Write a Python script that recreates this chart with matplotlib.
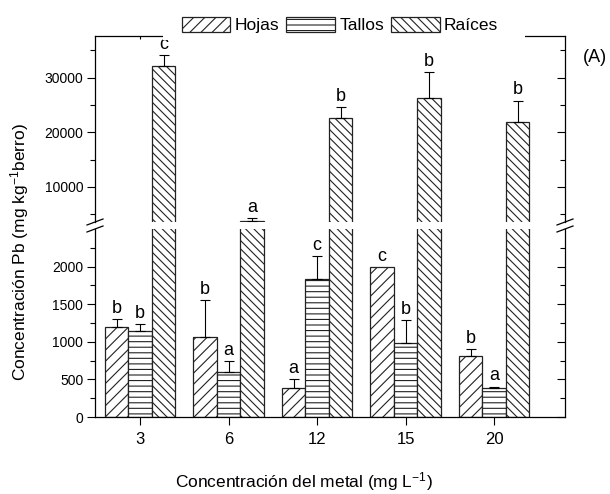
import numpy as np
import matplotlib
matplotlib.use('Agg')
import matplotlib.pyplot as plt
from matplotlib.lines import Line2D
from matplotlib.patches import Rectangle

plt.rcParams['font.family'] = ['Liberation Sans', 'DejaVu Sans']
plt.rcParams['mathtext.default'] = 'regular'
plt.rcParams['hatch.linewidth'] = 0.8

# datos
concentraciones = ['3', '6', '12', '15', '20']
hojas = [1200, 1070, 380, 2000, 815]
hojas_err = [100, 480, 120, 0, 85]
tallos = [1140, 595, 1835, 980, 390]
tallos_err = [100, 155, 300, 305, 15]
raices = [32100, 3850, 22600, 26300, 21850]
raices_err = [2000, 400, 2000, 4700, 3950]

letras_hojas = ['b', 'b', 'a', 'c', 'b']
letras_tallos = ['b', 'a', 'c', 'b', 'a']
letras_raices = ['c', 'a', 'b', 'b', 'b']

W, H = 610, 494
fig = plt.figure(figsize=(W / 100, H / 100), dpi=100)

def fx(px):
    return px / W

def fy(py):
    return 1 - py / H

left, right = 95, 565
ax_top = fig.add_axes([fx(left), fy(222), fx(right) - fx(left), fy(36) - fy(222)])
ax_bot = fig.add_axes([fx(left), fy(417), fx(right) - fx(left), fy(229) - fy(417)])

x = np.arange(1, len(concentraciones) + 1)
w = 0.265
series = [
    (hojas, hojas_err, letras_hojas, '///', -w),
    (tallos, tallos_err, letras_tallos, '---', 0),
    (raices, raices_err, letras_raices, '\\\\\\\\', w),
]
labels = ['Hojas', 'Tallos', 'Raíces']

lim_bot = (0, 2500)
lim_top = (3600, 37600)

handles = []
for (vals, errs, letras, hatch, off), lab in zip(series, labels):
    vals = np.array(vals, dtype=float)
    errs = np.array(errs, dtype=float)
    for ax in (ax_top, ax_bot):
        b = ax.bar(x + off, vals, w, color='white', edgecolor='#222222',
                   linewidth=0.9, hatch=hatch, label=lab)
        m = errs > 0
        ax.errorbar(x[m] + off, vals[m], yerr=[np.zeros(m.sum()), errs[m]],
                    fmt='none', ecolor='black', elinewidth=0.8, capsize=3.5,
                    capthick=0.8)
    handles.append(b)
    for xi, v, e, l in zip(x + off, vals, errs, letras):
        ax = ax_top if v + e > lim_bot[1] else ax_bot
        ax.annotate(l, (xi, v + e), xytext=(0, 1.5), textcoords='offset points',
                    ha='center', va='bottom', fontsize=13)

for ax in (ax_top, ax_bot):
    ax.set_xlim(0.49, 5.8)
    ax.tick_params(axis='y', which='major', direction='out', length=5.5,
                   width=0.8, labelsize=10, pad=3)
    ax.tick_params(axis='y', which='minor', direction='out', length=3.5, width=0.8)
    ax.tick_params(axis='y', which='both', right=True)
    for s in ax.spines.values():
        s.set_linewidth(0.9)

ax_top.set_ylim(*lim_top)
ax_top.set_yticks([10000, 20000, 30000])
ax_top.set_yticks([5000, 15000, 25000, 35000], minor=True)
ax_top.spines['bottom'].set_visible(False)
ax_top.set_xticks(x)
ax_top.tick_params(axis='x', bottom=False, labelbottom=False, top=True,
                   direction='in', length=2.5, width=0.8)

ax_bot.set_ylim(*lim_bot)
ax_bot.set_yticks([0, 500, 1000, 1500, 2000])
ax_bot.set_yticks(np.arange(250, 2500, 500), minor=True)
ax_bot.spines['top'].set_visible(False)
ax_bot.set_xticks(x)
ax_bot.set_xticklabels(concentraciones)
ax_bot.tick_params(axis='x', direction='out', length=6, width=0.8,
                   labelsize=12, pad=5)

# ticks derechos hacia adentro
for ax in (ax_top, ax_bot):
    for t in ax.yaxis.get_major_ticks() + ax.yaxis.get_minor_ticks():
        t.tick2line.set_marker(matplotlib.lines.TICKLEFT)

# marcas de corte
for xb in (left, right):
    for yb in (222, 229):
        fig.add_artist(Line2D([fx(xb - 8), fx(xb + 8)], [fy(yb + 3), fy(yb - 3)],
                              transform=fig.transFigure, color='black', lw=0.9))

# tapa del eje superior detras de la leyenda
fig.add_artist(Rectangle((fx(163), fy(40.5)), fx(525) - fx(163), fy(33) - fy(40.5),
                         transform=fig.transFigure, facecolor='white',
                         edgecolor='none', zorder=3))

fig.legend(handles, labels, ncol=3, loc='center', bbox_to_anchor=(fx(340), fy(25)),
           frameon=False, fontsize=12.5, handlelength=2.8, handleheight=0.95,
           handletextpad=0.25, columnspacing=0.4, borderaxespad=0)

fig.text(fx(20), fy(252), 'Concentración Pb (mg kg$^{-1}$berro)', rotation=90,
         ha='center', va='center', fontsize=12.5)
fig.text(fx(304), fy(482), 'Concentración del metal (mg L$^{-1}$)',
         ha='center', va='center', fontsize=12.5)
fig.text(fx(607), fy(58), '(A)', ha='right', va='center', fontsize=13)

fig.savefig('out.png', dpi=100)
